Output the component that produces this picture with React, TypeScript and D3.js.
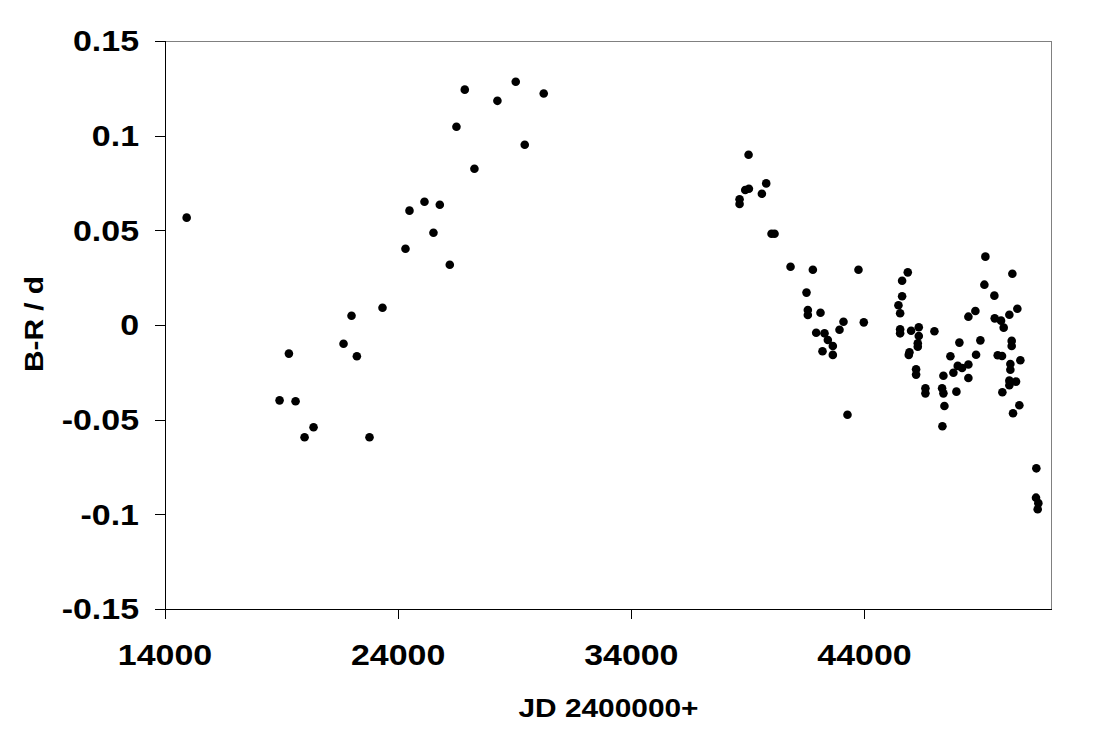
import React from "react";
import * as d3 from "d3";

// Observations: Julian date (minus 2400000) and B-R / d
const jd: number[] = [
  14929, 26857, 29043, 30243, 28257, 26500, 29429, 27271, 25129, 24486,
  25786, 25514, 24314, 26214, 23329, 22000, 21657, 22229, 19314, 18914,
  19600, 20371, 19986, 22771,
  39029, 39786, 38886, 39043, 39600, 38643, 38643, 40014, 40143, 40829,
  41786, 43743, 41514, 41571, 41571, 42114, 43100, 42929, 43971, 41929,
  42286, 42429, 42643, 42200, 42643, 43271,
  49186, 45857, 50343, 45614, 49143, 49571, 45614, 45457, 50557, 45529,
  48757, 48457, 50214, 49586, 49857, 49971, 45529, 45529, 46000, 46329,
  46329, 47000, 46286, 46286, 48071, 48971, 50314, 50314, 45929, 45900,
  47686, 48786, 49714, 49900, 50686, 48457, 48000, 48186, 50257, 50257,
  47814, 46214, 46214, 47386, 48457, 50214, 50214, 50500, 46614, 46614,
  47329, 47386, 47943, 49914, 47429, 50643, 50371, 47343, 51371, 51357,
  51457, 51429,
];
const bmr: number[] = [
  0.0567, 0.1243, 0.1285, 0.1223, 0.1184, 0.1047, 0.0952, 0.0825, 0.0651, 0.0604,
  0.0635, 0.0487, 0.0403, 0.0318, 0.0091, 0.0049, -0.0099, -0.0165, -0.0151, -0.0398,
  -0.0403, -0.054, -0.0593, -0.0593,
  0.0899, 0.0748, 0.0713, 0.072, 0.0693, 0.0664, 0.0639, 0.0482, 0.0482, 0.0308,
  0.0292, 0.0292, 0.0171, 0.0079, 0.0053, 0.0065, 0.0017, -0.0025, 0.0014, -0.0041,
  -0.0044, -0.0079, -0.0111, -0.0139, -0.0158, -0.0474,
  0.0361, 0.0278, 0.0271, 0.0234, 0.0213, 0.0155, 0.0152, 0.0104, 0.0086, 0.0062,
  0.0074, 0.0044, 0.0054, 0.0035, 0.0023, -0.0014, -0.0023, -0.0044, -0.003, -0.0012,
  -0.0058, -0.0033, -0.0097, -0.0115, -0.0093, -0.0081, -0.0084, -0.0111, -0.0144, -0.0158,
  -0.0165, -0.0157, -0.016, -0.0164, -0.0186, -0.0209, -0.0216, -0.0227, -0.0206, -0.0236,
  -0.0252, -0.0234, -0.0262, -0.0268, -0.028, -0.0294, -0.0318, -0.0299, -0.0334, -0.0361,
  -0.0334, -0.0361, -0.0352, -0.0355, -0.0428, -0.0424, -0.0466, -0.0535, -0.0757, -0.0912,
  -0.0941, -0.0973,
];

const xTicks: number[] = [14000, 24000, 34000, 44000];
const yTicks: number[] = [0.15, 0.1, 0.05, 0, -0.05, -0.1, -0.15];
const xTitle = "JD 2400000+";
const yTitle = "B-R / d";

const W = 1103;
const H = 746;
const left = 165;
const right = 1051;
const top = 41;
const bottom = 609;

const FONT = "'Liberation Sans', Arial, sans-serif";
const SX = 1.17;

function fmtY(v: number): string {
  if (Math.abs(v) < 1e-9) return "0";
  return String(Math.round(v * 100) / 100);
}

export default function App() {
  const x = d3.scaleLinear().domain([14000, 52000]).range([left, right]);
  const y = d3.scaleLinear().domain([-0.15, 0.15]).range([bottom, top]);
  const pts = jd.map((d, i) => ({ x: x(d), y: y(bmr[i]) }));

  return (
    <svg
      width={W}
      height={H}
      style={{ position: "absolute", left: 0, top: 0, background: "#fff" }}
    >
      <rect x={0} y={0} width={W} height={H} fill="#fff" />
      {/* plot area border (grey top/right) */}
      <line x1={left} x2={right} y1={top + 0.5} y2={top + 0.5} stroke="#808080" strokeWidth={1} />
      <line x1={right + 0.5} x2={right + 0.5} y1={top} y2={bottom} stroke="#808080" strokeWidth={1} />
      {/* axes */}
      <line x1={left + 0.5} x2={left + 0.5} y1={top} y2={bottom + 0.5} stroke="#000" strokeWidth={1} />
      <line x1={left} x2={right + 1} y1={bottom + 0.5} y2={bottom + 0.5} stroke="#000" strokeWidth={1} />

      {yTicks.map((t) => (
        <g key={"y" + t}>
          <line
            x1={left - 10}
            x2={left}
            y1={Math.round(y(t)) + 0.5}
            y2={Math.round(y(t)) + 0.5}
            stroke="#000"
          />
          <text
            transform={`translate(139,${y(t) + 10.4}) scale(${SX},1)`}
            textAnchor="end"
            fontFamily={FONT}
            fontWeight="bold"
            fontSize={29}
            fill="#000"
          >
            {fmtY(t)}
          </text>
        </g>
      ))}

      {xTicks.map((t) => (
        <g key={"x" + t}>
          <line
            x1={Math.round(x(t)) + 0.5}
            x2={Math.round(x(t)) + 0.5}
            y1={bottom}
            y2={bottom + 10}
            stroke="#000"
          />
          <text
            transform={`translate(${x(t)},665) scale(${SX},1)`}
            textAnchor="middle"
            fontFamily={FONT}
            fontWeight="bold"
            fontSize={29}
            fill="#000"
          >
            {t}
          </text>
        </g>
      ))}

      <text
        transform={`translate(608.5,717) scale(${SX},1)`}
        textAnchor="middle"
        fontFamily={FONT}
        fontWeight="bold"
        fontSize={25.5}
        fill="#000"
      >
        {xTitle}
      </text>
      <text
        transform={`translate(43,324) rotate(-90) scale(${SX},1)`}
        textAnchor="middle"
        fontFamily={FONT}
        fontWeight="bold"
        fontSize={25.5}
        fill="#000"
      >
        {yTitle}
      </text>

      {pts.map((p, i) => (
        <circle key={i} cx={p.x} cy={p.y} r={4.3} fill="#000" />
      ))}
    </svg>
  );
}
